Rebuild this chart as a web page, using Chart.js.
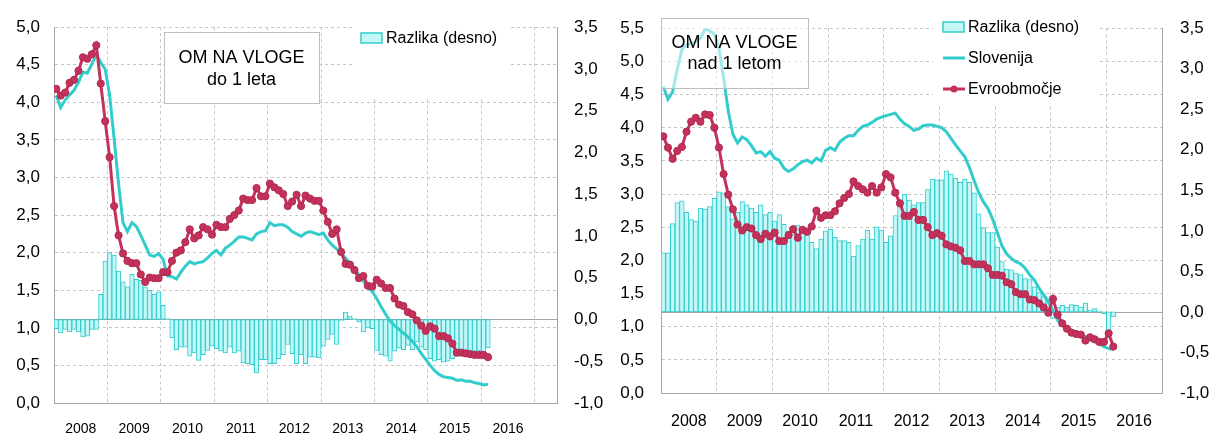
<!DOCTYPE html>
<html>
<head>
<meta charset="utf-8">
<script src="https://cdn.jsdelivr.net/npm/chart.js@4.4.0/dist/chart.umd.min.js"></script>
<style>
    html, body { margin: 0; padding: 0; background: #fff; }
    #wrap { position: relative; width: 1221px; height: 437px; }
    canvas { position: absolute; top: 0; }
</style>
</head>
<body>
<div id="wrap">
    <canvas id="chartShort" width="610" height="437" style="left:0"></canvas>
    <canvas id="chartLong" width="611" height="437" style="left:610px"></canvas>
</div>
<script>
// monthly data, Jan 2008 .. Feb 2016
const yearLabels = ['2008', '2009', '2010', '2011', '2012', '2013', '2014', '2015', '2016'];

// OM na vloge do 1 leta
const shortEuro = [
    4.18, 4.09, 4.13, 4.26, 4.30, 4.42, 4.60, 4.58, 4.64, 4.76,
    4.25, 3.75, 3.27, 2.62, 2.23, 1.99, 1.89, 1.86, 1.86, 1.71,
    1.61, 1.67, 1.66, 1.66, 1.74, 1.74, 1.89, 2.00, 2.03, 2.14,
    2.31, 2.19, 2.23, 2.34, 2.31, 2.24, 2.37, 2.34, 2.34, 2.45,
    2.50, 2.56, 2.72, 2.70, 2.70, 2.86, 2.75, 2.75, 2.92, 2.87,
    2.83, 2.78, 2.62, 2.68, 2.77, 2.62, 2.76, 2.72, 2.69, 2.69,
    2.56, 2.41, 2.25, 2.31, 2.01, 1.85, 1.84, 1.77, 1.66, 1.69,
    1.56, 1.55, 1.64, 1.59, 1.53, 1.53, 1.39, 1.31, 1.29, 1.21,
    1.18, 1.10, 1.03, 0.96, 1.02, 0.99, 0.89, 0.89, 0.86, 0.79,
    0.67, 0.67, 0.66, 0.65, 0.64, 0.64, 0.64, 0.61
];
const shortSlo = [
    4.09, 3.93, 4.03, 4.10, 4.16, 4.27, 4.40, 4.39, 4.51, 4.64,
    4.53, 4.44, 4.10, 3.52, 2.92, 2.40, 2.28, 2.40, 2.35, 2.23,
    2.10, 1.97, 1.95, 1.99, 1.91, 1.69, 1.68, 1.65, 1.74, 1.82,
    1.88, 1.85, 1.87, 1.88, 1.93, 1.99, 2.03, 1.97, 2.06, 2.10,
    2.15, 2.21, 2.21, 2.19, 2.17, 2.25, 2.28, 2.29, 2.40, 2.36,
    2.37, 2.37, 2.34, 2.28, 2.25, 2.22, 2.26, 2.28, 2.26, 2.24,
    2.26, 2.17, 2.10, 2.05, 1.99, 1.93, 1.86, 1.78, 1.71, 1.62,
    1.54, 1.48, 1.39, 1.28, 1.18, 1.09, 1.03, 0.98, 0.93, 0.88,
    0.82, 0.75, 0.66, 0.58, 0.50, 0.43, 0.38, 0.35, 0.34, 0.33,
    0.30, 0.31, 0.29, 0.29, 0.27, 0.26, 0.24, 0.25
];
const shortDiff = [
    -0.11, -0.16, -0.12, -0.15, -0.12, -0.15, -0.21, -0.20, -0.12, -0.12,
    0.30, 0.70, 0.80, 0.77, 0.58, 0.45, 0.39, 0.54, 0.48, 0.47,
    0.39, 0.35, 0.30, 0.33, 0.17, 0.01, -0.22, -0.36, -0.33, -0.33,
    -0.44, -0.40, -0.49, -0.42, -0.37, -0.32, -0.35, -0.38, -0.40, -0.33,
    -0.40, -0.38, -0.52, -0.53, -0.54, -0.64, -0.48, -0.48, -0.53, -0.53,
    -0.47, -0.42, -0.30, -0.41, -0.53, -0.42, -0.53, -0.45, -0.45, -0.46,
    -0.32, -0.24, -0.18, -0.30, -0.02, 0.09, 0.04, 0.01, -0.03, -0.15,
    -0.10, -0.11, -0.37, -0.42, -0.44, -0.50, -0.38, -0.34, -0.36, -0.31,
    -0.36, -0.27, -0.33, -0.36, -0.47, -0.50, -0.48, -0.51, -0.50, -0.47,
    -0.44, -0.42, -0.38, -0.40, -0.38, -0.38, -0.40, -0.34
];

// OM na vloge nad 1 letom
const longEuro = [
    3.87, 3.70, 3.53, 3.65, 3.71, 3.94, 4.09, 4.15, 4.09, 4.20,
    4.19, 4.00, 3.70, 3.30, 2.99, 2.77, 2.54, 2.45, 2.50, 2.48,
    2.38, 2.32, 2.40, 2.36, 2.42, 2.29, 2.29, 2.38, 2.47, 2.34,
    2.46, 2.43, 2.51, 2.75, 2.64, 2.68, 2.68, 2.74, 2.86, 2.94,
    3.00, 3.19, 3.12, 3.07, 3.02, 3.12, 3.02, 3.10, 3.30, 3.25,
    3.02, 2.86, 2.67, 2.67, 2.73, 2.61, 2.61, 2.50, 2.38, 2.41,
    2.37, 2.24, 2.21, 2.19, 2.15, 1.99, 1.99, 1.94, 1.94, 1.94,
    1.88, 1.78, 1.78, 1.77, 1.67, 1.64, 1.52, 1.49, 1.49, 1.41,
    1.40, 1.35, 1.29, 1.21, 1.42, 1.18, 1.05, 0.97, 0.91, 0.89,
    0.88, 0.79, 0.84, 0.81, 0.77, 0.77, 0.90, 0.70
];
const longSlo = [
    4.62, 4.43, 4.54, 4.88, 5.18, 5.25, 5.27, 5.30, 5.35, 5.49,
    5.46, 5.41, 5.20, 4.75, 4.25, 3.90, 3.77, 3.86, 3.82, 3.73,
    3.62, 3.64, 3.57, 3.64, 3.54, 3.51, 3.39, 3.34, 3.38, 3.44,
    3.49, 3.51, 3.47, 3.54, 3.50, 3.66, 3.70, 3.66, 3.78, 3.84,
    3.88, 3.88, 3.96, 4.02, 4.04, 4.08, 4.13, 4.16, 4.18, 4.20,
    4.22, 4.13, 4.06, 4.02, 3.96, 3.98, 4.03, 4.04, 4.04, 4.02,
    4.00, 3.94, 3.84, 3.74, 3.65, 3.56, 3.40, 3.20, 3.02, 2.88,
    2.78, 2.62, 2.42, 2.22, 2.10, 2.03, 1.98, 1.95, 1.88, 1.78,
    1.70, 1.58, 1.48, 1.38, 1.24, 1.10, 1.02, 0.98, 0.95, 0.91,
    0.88, 0.85, 0.80, 0.77, 0.74, 0.70, 0.67, 0.66
];
const longDiff = [
    0.73, 0.73, 1.09, 1.35, 1.37, 1.23, 1.14, 1.12, 1.28, 1.27,
    1.30, 1.40, 1.48, 1.47, 1.30, 1.15, 1.23, 1.36, 1.32, 1.28,
    1.23, 1.32, 1.20, 1.23, 1.12, 1.20, 1.08, 1.00, 0.96, 1.07,
    1.05, 1.02, 0.86, 0.78, 0.90, 1.00, 1.02, 0.92, 0.88, 0.88,
    0.86, 0.69, 0.82, 0.90, 1.01, 0.90, 1.05, 1.01, 0.86, 0.94,
    1.19, 1.38, 1.45, 1.38, 1.32, 1.35, 1.35, 1.51, 1.64, 1.63,
    1.63, 1.74, 1.70, 1.65, 1.60, 1.64, 1.60, 1.47, 1.21, 1.04,
    0.98, 0.98, 0.80, 0.62, 0.53, 0.52, 0.48, 0.46, 0.41, 0.40,
    0.31, 0.24, 0.19, 0.14, -0.08, 0.06, 0.08, 0.06, 0.09, 0.08,
    0.06, 0.11, 0.02, 0.04, 0.01, -0.02, -0.23, -0.06
];

const RED = '#C4325C';
const CYAN = '#33CCCC';
const BAR_FILL = '#C4F8F8';
const GRID = '#C6C6C6';
const AXIS = '#A6A6A6';
const FONT = "'Liberation Sans', Arial, sans-serif";

function toPoints(values) {
    return values.map((v, i) => ({ x: i + 0.5, y: v }));
}

function comma(v) {
    return v.toFixed(1).replace('.', ',');
}

function decorPlugin(cfg) {
    return {
        id: 'decor',
        beforeDatasetsDraw(chart) {
            // zero line of the right axis
            const ctx = chart.ctx;
            const area = chart.chartArea;
            const y0 = Math.round(chart.scales.yR.getPixelForValue(0)) + 0.5;
            ctx.save();
            ctx.strokeStyle = AXIS;
            ctx.lineWidth = 1;
            ctx.beginPath();
            ctx.moveTo(area.left, y0);
            ctx.lineTo(area.right, y0);
            ctx.stroke();
            ctx.restore();
        },
        afterDatasetsDraw(chart) {
            const ctx = chart.ctx;
            ctx.save();

            // title box
            const t = cfg.title;
            ctx.fillStyle = t.fill;
            ctx.fillRect(t.x, t.y, t.w, t.h);
            ctx.strokeStyle = '#BDBDBD';
            ctx.lineWidth = 1;
            ctx.strokeRect(t.x + 0.5, t.y + 0.5, t.w, t.h);
            ctx.fillStyle = '#000';
            ctx.font = '18px ' + FONT;
            ctx.textAlign = 'center';
            ctx.textBaseline = 'middle';
            t.lines.forEach((line, i) => {
                ctx.fillText(line, t.x + t.w / 2, t.textY + i * t.lineGap);
            });

            // legend
            const lg = cfg.legend;
            ctx.fillStyle = '#fff';
            ctx.fillRect(lg.x, lg.y, lg.w, lg.h);
            ctx.font = '16px ' + FONT;
            ctx.textAlign = 'left';
            ctx.textBaseline = 'middle';
            lg.items.forEach(item => {
                const sx = lg.swatchX;
                if (item.kind === 'bar') {
                    ctx.fillStyle = BAR_FILL;
                    ctx.fillRect(sx, item.y - 5, 21, 10);
                    ctx.strokeStyle = CYAN;
                    ctx.lineWidth = 1.5;
                    ctx.strokeRect(sx, item.y - 5, 21, 10);
                } else {
                    ctx.strokeStyle = item.color;
                    ctx.lineWidth = 3;
                    ctx.beginPath();
                    ctx.moveTo(sx, item.y);
                    ctx.lineTo(sx + 22, item.y);
                    ctx.stroke();
                    if (item.kind === 'dot') {
                        ctx.fillStyle = item.color;
                        ctx.beginPath();
                        ctx.arc(sx + 11, item.y, 3.5, 0, Math.PI * 2);
                        ctx.fill();
                    }
                }
                ctx.fillStyle = '#000';
                ctx.fillText(item.label, sx + 25, item.y + 1);
            });
            ctx.restore();
        }
    };
}

function makeChart(id, cfg) {
    const ctx = document.getElementById(id).getContext('2d');
    return new Chart(ctx, {
        data: {
            datasets: [{
                type: 'line',
                label: 'Evroobmočje',
                data: toPoints(cfg.euro),
                yAxisID: 'yL',
                borderColor: RED,
                borderWidth: 3,
                pointRadius: 3.6,
                pointBackgroundColor: RED,
                pointBorderColor: '#B02A50',
                pointBorderWidth: 1,
                tension: 0,
                order: 1
            }, {
                type: 'line',
                label: 'Slovenija',
                data: toPoints(cfg.slo),
                yAxisID: 'yL',
                borderColor: CYAN,
                borderWidth: 3,
                pointRadius: 0,
                tension: 0,
                order: 2
            }, {
                type: 'bar',
                label: 'Razlika (desno)',
                data: toPoints(cfg.diff),
                yAxisID: 'yR',
                backgroundColor: BAR_FILL,
                borderColor: CYAN,
                borderWidth: 1,
                borderSkipped: false,
                barPercentage: 1,
                categoryPercentage: 1,
                order: 3
            }]
        },
        options: {
            responsive: false,
            animation: false,
            events: [],
            layout: { padding: { top: cfg.top, left: 0, right: 0, bottom: 0 } },
            plugins: { legend: { display: false }, tooltip: { enabled: false } },
            scales: {
                x: {
                    type: 'linear',
                    offset: false,
                    min: 0,
                    max: cfg.xMax,
                    afterBuildTicks: axis => {
                        const ticks = [];
                        for (let v = 0; v <= cfg.xMax; v += 6) ticks.push({ value: v });
                        axis.ticks = ticks;
                    },
                    afterFit: axis => { axis.height = cfg.xHeight; },
                    ticks: {
                        autoSkip: false,
                        maxRotation: 0,
                        padding: cfg.xPad,
                        color: '#000',
                        font: { family: FONT, size: cfg.xFont },
                        callback: v => (v % 12 === 6 ? (yearLabels[(v - 6) / 12] || '') : '')
                    },
                    grid: {
                        offset: false,
                        drawTicks: false,
                        color: c => (c.tick && c.tick.value % 12 === 0 ? GRID : 'rgba(0,0,0,0)')
                    },
                    border: { color: AXIS, dash: [3, 3] }
                },
                yL: {
                    type: 'linear',
                    position: 'left',
                    min: 0,
                    max: cfg.yMax,
                    afterFit: axis => { axis.width = cfg.leftW; },
                    ticks: {
                        stepSize: 0.5,
                        padding: cfg.leftPad,
                        color: '#000',
                        font: { family: FONT, size: 17 },
                        callback: v => comma(v)
                    },
                    grid: { drawTicks: false, color: GRID },
                    border: { color: AXIS, dash: [3, 3] }
                },
                yR: {
                    type: 'linear',
                    position: 'right',
                    min: -1,
                    max: 3.5,
                    afterFit: axis => { axis.width = cfg.rightW; },
                    ticks: {
                        stepSize: 0.5,
                        padding: cfg.rightPad,
                        color: '#000',
                        font: { family: FONT, size: 17 },
                        callback: v => comma(v)
                    },
                    grid: { display: false, drawTicks: false },
                    border: { display: true, color: AXIS }
                }
            }
        },
        plugins: [decorPlugin(cfg)]
    });
}

makeChart('chartShort', {
    euro: shortEuro, slo: shortSlo, diff: shortDiff,
    xMax: 113, yMax: 5, top: 15, xHeight: 34, xPad: 18, xFont: 14,
    leftW: 54, rightW: 53, leftPad: 14, rightPad: 17,
    title: { x: 164, y: 32, w: 155, h: 71, fill: '#fff', lines: ['OM NA VLOGE', 'do 1 leta'], textY: 58, lineGap: 22 },
    legend: {
        x: 355, y: 16, w: 153, h: 81, swatchX: 361,
        items: [{ kind: 'bar', label: 'Razlika (desno)', y: 38 }]
    }
});

makeChart('chartLong', {
    euro: longEuro, slo: longSlo, diff: longDiff,
    xMax: 108, yMax: 5.5, top: 18, xHeight: 44, xPad: 19, xFont: 16,
    leftW: 51, rightW: 59, leftPad: 17, rightPad: 18,
    title: { x: 51, y: 18, w: 147, h: 70, fill: 'rgba(255,255,255,0.55)', lines: ['OM NA VLOGE', 'nad 1 letom'], textY: 43, lineGap: 21 },
    legend: {
        x: 323, y: 19, w: 165, h: 87, swatchX: 333,
        items: [
            { kind: 'bar', label: 'Razlika (desno)', y: 27 },
            { kind: 'line', label: 'Slovenija', y: 58, color: CYAN },
            { kind: 'dot', label: 'Evroobmočje', y: 89, color: RED }
        ]
    }
});
</script>
</body>
</html>
